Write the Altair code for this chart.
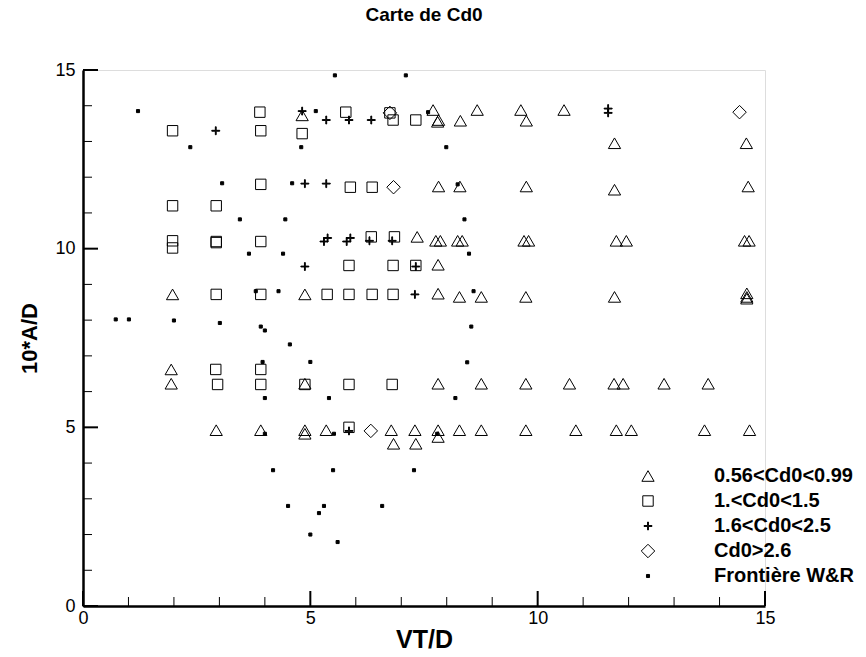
import altair as alt
import pandas as pd

series_names = ["0.56<Cd0<0.99", "1.<Cd0<1.5", "1.6<Cd0<2.5", "Cd0>2.6", "Frontière W&R"]

# 0.56<Cd0<0.99 (triangles)
tri_x = [4.82, 7.70, 7.80, 7.82, 8.30, 8.67, 9.63, 9.75, 10.58,
         11.69, 14.59,
         7.82, 8.29, 9.75, 11.69, 14.63,
         7.35, 7.76, 7.86, 8.24, 8.34, 9.70, 9.80, 11.73, 11.95, 14.55, 14.65,
         7.81,
         1.97, 4.88, 7.81, 8.28, 8.76, 9.74, 11.69, 14.60, 14.60, 14.60,
         1.94,
         1.94, 4.88, 7.81, 8.76, 9.74, 10.70, 11.68, 11.88, 12.78, 13.75,
         2.93, 3.91, 4.88, 4.88, 5.35, 6.78, 7.30, 7.81, 8.28, 8.76, 9.74, 10.84, 11.73, 12.06, 13.67, 14.66,
         6.83, 7.32, 7.81]
tri_y = [13.73, 13.88, 13.55, 13.60, 13.58, 13.88, 13.88, 13.58, 13.88,
         12.95, 12.95,
         11.74, 11.74, 11.74, 11.65, 11.74,
         10.33, 10.22, 10.22, 10.22, 10.22, 10.22, 10.22, 10.22, 10.22, 10.22, 10.22,
         9.55,
         8.72, 8.72, 8.74, 8.65, 8.65, 8.65, 8.65, 8.75, 8.65, 8.60,
         6.62,
         6.22, 6.22, 6.22, 6.22, 6.22, 6.22, 6.22, 6.22, 6.22, 6.22,
         4.92, 4.92, 4.92, 4.82, 4.92, 4.92, 4.92, 4.92, 4.92, 4.92, 4.92, 4.92, 4.92, 4.92, 4.92, 4.92,
         4.54, 4.54, 4.73]

# 1.<Cd0<1.5 (squares)
sq_x = [1.97, 3.89, 3.91, 4.82, 5.78, 6.82, 6.75, 7.32,
        3.91, 5.88, 6.36,
        1.97, 2.93,
        1.97, 1.97, 2.93, 2.93, 3.91, 6.34, 6.85,
        5.85, 6.82, 7.32,
        2.93, 3.91, 5.37, 5.85, 6.36, 6.82,
        2.92, 3.91,
        2.96, 3.91, 4.88, 5.85, 6.80,
        5.85]
sq_y = [13.30, 13.82, 13.30, 13.22, 13.82, 13.60, 13.80, 13.60,
        11.80, 11.72, 11.72,
        11.20, 11.20,
        10.22, 10.02, 10.20, 10.17, 10.20, 10.33, 10.33,
        9.53, 9.53, 9.53,
        8.72, 8.72, 8.72, 8.72, 8.72, 8.72,
        6.62, 6.62,
        6.20, 6.20, 6.20, 6.20, 6.20,
        5.00]

# 1.6<Cd0<2.5 (plus signs)
pl_x = [4.82, 2.92, 5.35, 5.85, 6.34, 11.55, 11.55,
        4.88, 5.35,
        5.30, 5.38, 5.80, 5.88, 6.30, 6.80,
        4.88, 7.32,
        7.30,
        5.85]
pl_y = [13.85, 13.30, 13.60, 13.60, 13.60, 13.92, 13.80,
        11.82, 11.82,
        10.20, 10.30, 10.20, 10.30, 10.22, 10.22,
        9.50, 9.50,
        8.72,
        4.90]

# Cd0>2.6 (diamonds)
di_x = [6.75, 14.44, 6.83, 6.33]
di_y = [13.80, 13.82, 11.72, 4.90]

# Frontière W&R (small dots)
fr_x = [1.21, 5.54, 7.10, 5.12, 7.59, 2.36, 4.80, 7.99, 3.06, 4.60, 8.24,
        3.45, 4.45, 8.39, 3.65, 4.40, 8.49, 3.80, 4.30, 8.59,
        0.72, 1.01, 2.00, 3.01, 3.91, 4.00, 8.54, 4.55, 3.95, 5.00, 8.45,
        4.00, 5.41, 8.19, 4.00, 5.52, 7.79, 4.18, 5.50, 7.28,
        4.51, 5.30, 6.58, 5.19, 5.00, 5.60]
fr_y = [13.85, 14.85, 14.85, 13.85, 13.82, 12.84, 12.84, 12.84, 11.83, 11.83, 11.80,
        10.82, 10.82, 10.82, 9.86, 9.86, 9.86, 8.81, 8.81, 8.81,
        8.02, 8.02, 7.99, 7.92, 7.82, 7.71, 7.82, 7.32, 6.83, 6.83, 6.82,
        5.82, 5.82, 5.82, 4.82, 4.82, 4.82, 3.80, 3.80, 3.80,
        2.80, 2.80, 2.80, 2.60, 2.00, 1.79]

x_major = [0, 5, 10, 15]
x_minor = [1, 2, 3, 4, 6, 7, 8, 9, 11, 12, 13, 14]
y_major = [0, 5, 10, 15]
y_minor = [1, 2, 3, 4, 6, 7, 8, 9, 11, 12, 13, 14]

rows = []
for name, xs, ys in zip(series_names,
                        [tri_x, sq_x, pl_x, di_x, fr_x],
                        [tri_y, sq_y, pl_y, di_y, fr_y]):
    for a, b in zip(xs, ys):
        rows.append({"x": a, "y": b, "series": name})
df = pd.DataFrame(rows)

FONT = "Liberation Sans"
W, H = 682, 536

xscale = alt.Scale(domain=[0, 15], nice=False, zero=False)
yscale = alt.Scale(domain=[0, 15], nice=False, zero=False)

xaxis = alt.Axis(values=x_major, ticks=False, grid=False, domainWidth=2.5, domainColor="black",
                 labelFont=FONT, labelFontSize=18, labelColor="black", labelPadding=3,
                 labelFlush=False, titleFont=FONT, titleFontSize=25, titleFontWeight="bold",
                 titleColor="black", titlePadding=0, format="d")
yaxis = alt.Axis(values=y_major, ticks=False, grid=False, domainWidth=2.5, domainColor="black",
                 labelFont=FONT, labelFontSize=18, labelColor="black", labelPadding=8,
                 labelFlush=False, titleFont=FONT, titleFontSize=22, titleFontWeight="bold",
                 titleColor="black", titlePadding=13, format="d")

# symbol outlines drawn in the -1..1 box (uniform mark size)
shape_range = [
    "triangle-up",
    "M-0.85,-0.85H0.85V0.85H-0.85Z",
    "M-0.65,-0.07H-0.07V-0.65H0.07V-0.07H0.65V0.07H0.07V0.65H-0.07V0.07H-0.65Z",
    "M0,-1.1L1.1,0L0,1.1L-1.1,0Z",
    "M-0.25,-0.25H0.25V0.25H-0.25Z",
]
fill_range = ["transparent", "transparent", "black", "transparent", "black"]
stroke_range = ["black", "black", "black", "black", "black"]

legend = alt.Legend(title=None, orient="none", legendX=555, legendY=396,
                    labelFont=FONT, labelFontSize=20, labelFontWeight="bold", labelColor="black",
                    labelOffset=56, rowPadding=5, symbolStrokeColor="black",
                    symbolSize=150, symbolStrokeWidth=1, padding=0)

points = alt.Chart(df).mark_point(strokeWidth=1, size=150, opacity=1,
                                  fillOpacity=1, strokeOpacity=1).encode(
    x=alt.X("x:Q", scale=xscale, axis=xaxis, title="VT/D"),
    y=alt.Y("y:Q", scale=yscale, axis=yaxis, title="10*A/D"),
    shape=alt.Shape("series:N", scale=alt.Scale(domain=series_names, range=shape_range), legend=legend),
    fill=alt.Fill("series:N", scale=alt.Scale(domain=series_names, range=fill_range), legend=legend),
    stroke=alt.Stroke("series:N", scale=alt.Scale(domain=series_names, range=stroke_range), legend=legend),
)

xmaj = alt.Chart(pd.DataFrame({"v": x_major})).mark_rule(color="black", strokeWidth=2).encode(
    x=alt.X("v:Q", scale=xscale, title="VT/D"), y=alt.value(H), y2=alt.value(H - 15))
xmin = alt.Chart(pd.DataFrame({"v": x_minor})).mark_rule(color="black", strokeWidth=1).encode(
    x=alt.X("v:Q", scale=xscale, title="VT/D"), y=alt.value(H), y2=alt.value(H - 9))
ymaj = alt.Chart(pd.DataFrame({"v": y_major})).mark_rule(color="black", strokeWidth=2).encode(
    y=alt.Y("v:Q", scale=yscale, title="10*A/D"), x=alt.value(0), x2=alt.value(15))
ymin = alt.Chart(pd.DataFrame({"v": y_minor})).mark_rule(color="black", strokeWidth=1).encode(
    y=alt.Y("v:Q", scale=yscale, title="10*A/D"), x=alt.value(0), x2=alt.value(9))

chart = alt.layer(points, xmaj, xmin, ymaj, ymin).properties(
    width=W, height=H,
    title=alt.TitleParams("Carte de Cd0", font=FONT, fontSize=19, fontWeight="bold",
                          color="black", anchor="middle", offset=36),
    autosize=alt.AutoSizeParams(type="none"),
    padding={"left": 83, "top": 70, "right": 866 - 83 - W, "bottom": 657 - 70 - H},
).configure_view(stroke=None).configure(background="white")

chart.save("out.html", embed_options={"renderer": "svg", "actions": False})
